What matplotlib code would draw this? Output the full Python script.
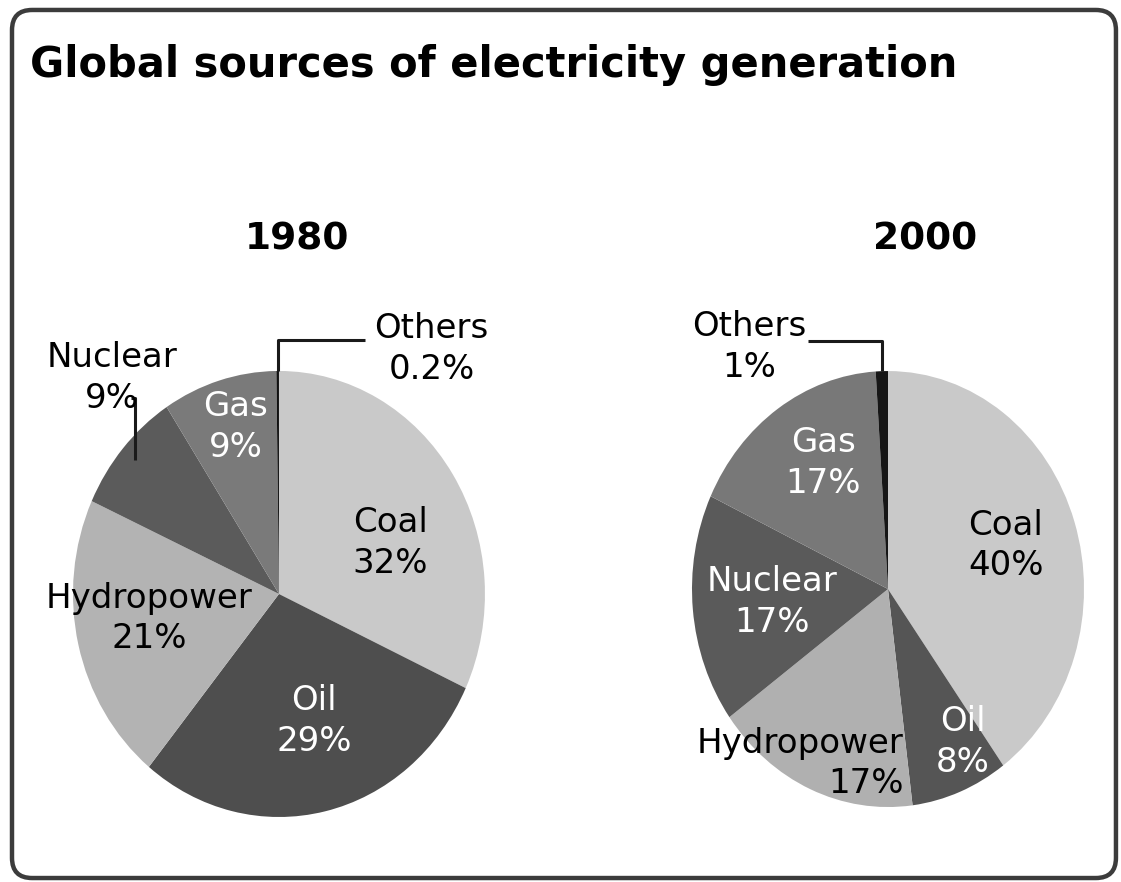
import matplotlib
matplotlib.use("Agg")
import matplotlib.pyplot as plt
from matplotlib.patches import FancyBboxPatch
import numpy as np

# data
sources = ["Coal", "Oil", "Hydropower", "Nuclear", "Gas", "Others"]
share_1980 = [32, 29, 21, 9, 9, 0.2]
share_2000 = [40, 8, 17, 17, 17, 1]
pct_1980 = ["32%", "29%", "21%", "9%", "9%", "0.2%"]
pct_2000 = ["40%", "8%", "17%", "17%", "17%", "1%"]

colors_1980 = ["#c9c9c9", "#4e4e4e", "#b3b3b3", "#5b5b5b", "#7a7a7a", "#111111"]
colors_2000 = ["#c9c9c9", "#555555", "#b0b0b0", "#5a5a5a", "#787878", "#161616"]
txtcol_1980 = ["black", "white", "black", "black", "white", "black"]
txtcol_2000 = ["black", "white", "black", "white", "white", "black"]

# label placement in pie units (x, y, ha)
labpos_1980 = [(0.54, 0.23, "center"), (0.17, -0.57, "center"),
               (-0.63, -0.11, "center"), (-0.81, 0.97, "center"),
               (-0.21, 0.75, "center"), (0.74, 1.10, "center")]
labpos_2000 = [(0.60, 0.20, "center"), (0.38, -0.70, "center"),
               (0.08, -0.80, "right"), (-0.59, -0.06, "center"),
               (-0.33, 0.58, "center"), (-0.71, 1.11, "center")]

# leader lines: index -> (start r, elbow y, end x)
leaders_1980 = {3: (0.92, 0.88, -0.72), 5: (1.0, 1.14, 0.42)}
leaders_2000 = {5: (1.0, 1.14, -0.41)}

fig = plt.figure(figsize=(11.21, 8.82), dpi=100)

frame = FancyBboxPatch((0.0107, 0.0045), 0.9848, 0.9842,
                       boxstyle="round,pad=0,rounding_size=0.018",
                       mutation_aspect=1121 / 882,
                       transform=fig.transFigure, facecolor="none",
                       edgecolor="#3c3c3c", linewidth=3.2, zorder=-1)
fig.patches.append(frame)

fig.text(0.027, 0.913, "Global sources of electricity generation",
         fontsize=30, fontweight="bold", ha="left", va="baseline")


def draw_pie(rect, values, pcts, colors, txtcols, labpos, leaders, year, year_x):
    ax = fig.add_axes(rect)
    wedges, _ = ax.pie(values, colors=colors, startangle=90, counterclock=False,
                       wedgeprops=dict(linewidth=0))
    ax.set_aspect("auto")
    ax.set_xlim(-1, 1)
    ax.set_ylim(-1, 1)
    ax.axis("off")
    for i, w in enumerate(wedges):
        mid = np.deg2rad((w.theta1 + w.theta2) / 2)
        x, y, ha = labpos[i]
        ax.text(x, y, sources[i] + "\n" + pcts[i], ha=ha, va="center",
                fontsize=24.5, color=txtcols[i], multialignment=ha,
                linespacing=1.3)
        if i in leaders:
            sr, ey, ex = leaders[i]
            sx = sr * np.cos(mid)
            sy = sr * np.sin(mid)
            ax.plot([sx, sx, ex], [sy, ey, ey], color="#1a1a1a", lw=2.2,
                    clip_on=False, solid_capstyle="butt")
    fig.text(year_x, 0.728, year, ha="center", va="center", fontsize=27,
             fontweight="bold")
    return ax


draw_pie([0.0651, 0.0737, 0.3675, 0.5057], share_1980, pct_1980, colors_1980,
         txtcol_1980, labpos_1980, leaders_1980, "1980", 0.265)
draw_pie([0.6173, 0.0850, 0.3497, 0.4943], share_2000, pct_2000, colors_2000,
         txtcol_2000, labpos_2000, leaders_2000, "2000", 0.825)

fig.savefig("out.png", dpi=100)
